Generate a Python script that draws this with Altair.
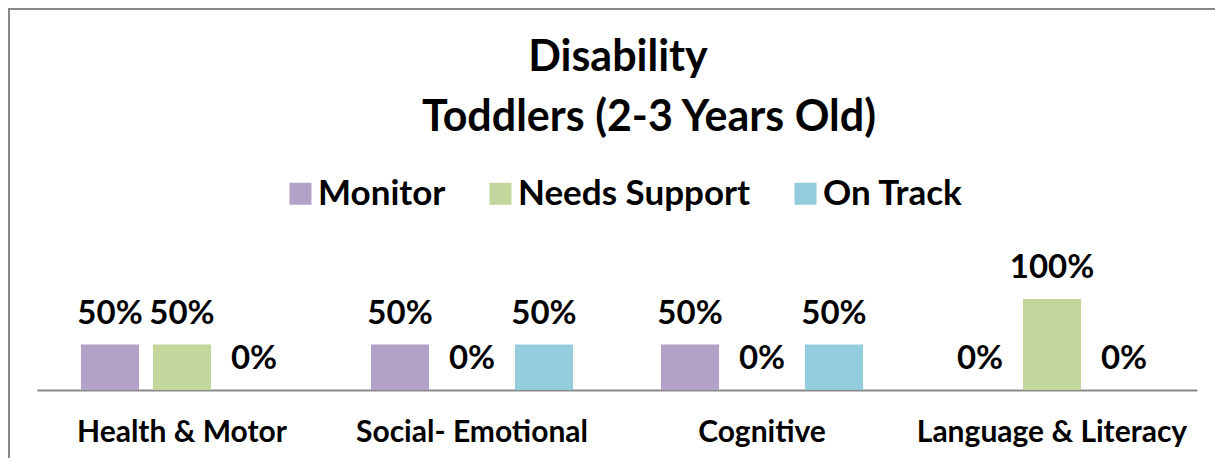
import altair as alt
import pandas as pd

title_lines = ["Disability", "Toddlers (2-3 Years Old)"]
categories = ["Health & Motor", "Social- Emotional", "Cognitive", "Language & Literacy"]
series = ["Monitor", "Needs Support", "On Track"]
monitor = [0.5, 0.5, 0.5, 0.0]
needs_support = [0.5, 0.0, 0.0, 1.0]
on_track = [0.0, 0.5, 0.5, 0.0]
colors = ["#B3A2C7", "#C3D69B", "#93CDDD"]

rows = []
for vals, s in zip([monitor, needs_support, on_track], series):
    for c, v in zip(categories, vals):
        rows.append({"category": c, "series": s, "value": v})
df = pd.DataFrame(rows)

FONT = "Lato"
GRAY = "#898989"

x = alt.X("category:N", sort=categories, title=None,
          scale=alt.Scale(paddingInner=0, paddingOuter=0),
          axis=alt.Axis(labelAngle=0, ticks=False, labelPadding=27, labelLimit=0,
                        labelFont=FONT, labelFontWeight="bold", labelFontSize=30,
                        labelColor="black", domainColor=GRAY, domainWidth=2))
xo = alt.XOffset("series:N", sort=series,
                 scale=alt.Scale(paddingInner=0.194, paddingOuter=0.611))
y = alt.Y("value:Q", axis=None, scale=alt.Scale(domain=[0, 1.21]))

base = alt.Chart(df)

bars = base.mark_bar().encode(
    x=x, xOffset=xo, y=y,
    color=alt.Color("series:N", sort=series,
                    scale=alt.Scale(domain=series, range=colors),
                    legend=alt.Legend(title=None, orient="none", direction="horizontal",
                                      legendX=246, legendY=-104,
                                      symbolType="square", symbolSize=484,
                                      symbolStrokeWidth=0, symbolOpacity=1,
                                      labelFont=FONT, labelFontWeight="bold",
                                      labelFontSize=35, labelColor="black",
                                      labelLimit=0,
                                      labelOffset=0, columnPadding=37)),
)

labels = base.mark_text(font=FONT, fontWeight="bold", fontSize=33, color="black",
                        baseline="alphabetic", dy=-21).encode(
    x=x, xOffset=xo, y=y,
    text=alt.Text("value:Q", format=".0%"),
)

title_df = pd.DataFrame({"line": title_lines})
title1 = alt.Chart(title_df).transform_filter(
    alt.datum.line == title_lines[0]).mark_text(
    font=FONT, fontWeight="bold", fontSize=43, color="black",
    baseline="alphabetic", align="center").encode(
    text="line:N", x=alt.value(581), y=alt.value(-209))
title2 = alt.Chart(title_df).transform_filter(
    alt.datum.line == title_lines[1]).mark_text(
    font=FONT, fontWeight="bold", fontSize=43, color="black",
    baseline="alphabetic", align="center").encode(
    text="line:N", x=alt.value(612), y=alt.value(-149))

frame_df = pd.DataFrame({"a": [0]})
left_border = alt.Chart(frame_df).mark_rule(color=GRAY, strokeWidth=2).encode(
    x=alt.value(-28), y=alt.value(-271), y2=alt.value(200))
top_border = alt.Chart(frame_df).mark_rule(color=GRAY, strokeWidth=2).encode(
    x=alt.value(-29), x2=alt.value(1200), y=alt.value(-271))

chart = alt.layer(bars, labels, title1, title2, left_border, top_border).properties(
    width=1160, height=110,
    autosize=alt.AutoSizeParams(type="none"),
    padding={"left": 29, "top": 272, "right": 18, "bottom": 68},
).configure_view(stroke=None)

chart.save("out.html", embed_options={"renderer": "svg", "actions": False})
